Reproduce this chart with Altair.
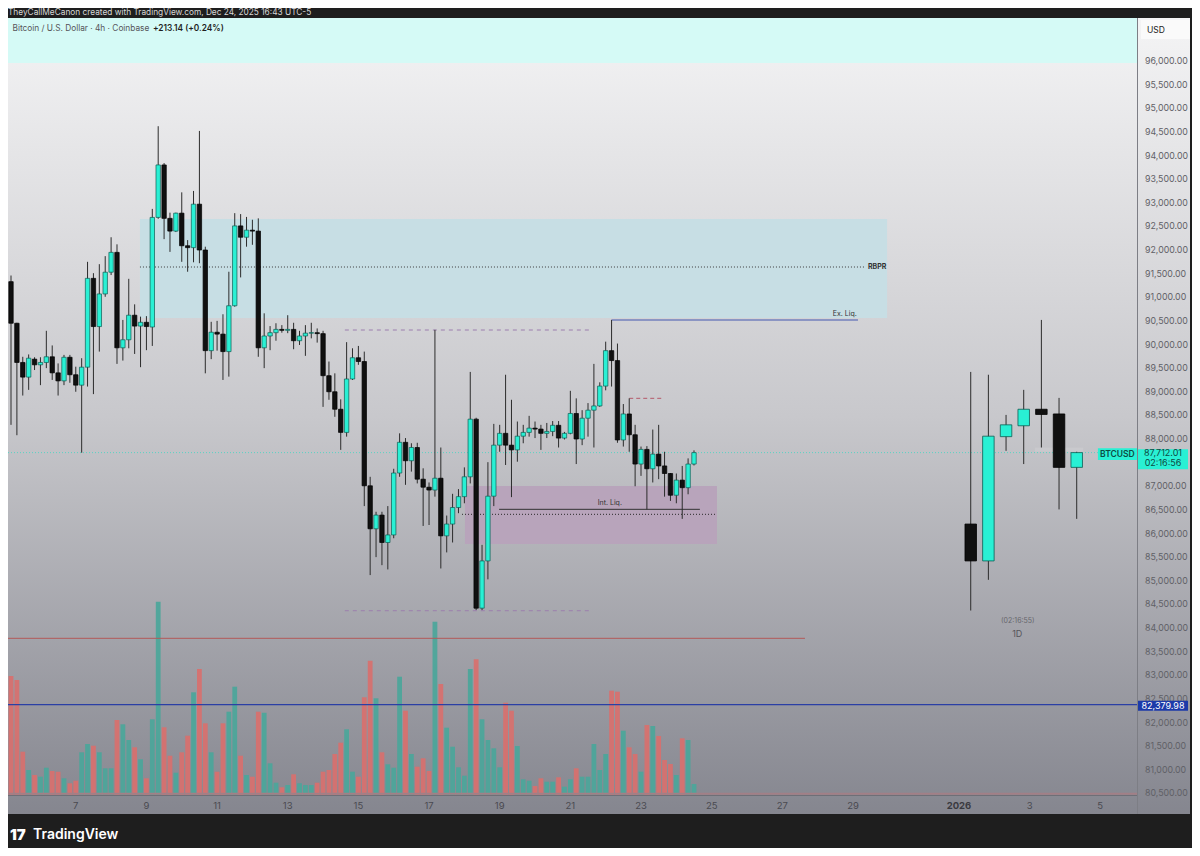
import altair as alt
import pandas as pd

# ---------------- 4h candles (Dec 5 04:00 -> Dec 24 12:00), BTC/USD Coinbase ----------------
opens = [91330, 90450, 89620, 89310, 89690, 89570, 89620, 89740, 89400, 89230,
         89730, 89360, 89140, 89520, 91400, 90380, 91070, 91530, 91950, 89930,
         90100, 90620, 90390, 90470, 90370, 92690, 93800, 92670, 92400, 92780,
         92090, 92050, 92970, 92000, 89870, 90260, 90220, 89850, 90820, 92510,
         92270, 92420, 92400, 89930, 90180, 90250, 90320, 90300, 90320, 90080,
         90180, 90240, 90250, 90230, 89340, 89000, 88630, 88140, 89270, 89720,
         89640, 87010, 86100, 86390, 85810, 85970, 87280, 87930, 87540, 87820,
         87150, 86980, 86920, 87170, 85950, 86200, 86550, 86780, 87200, 88420,
         84420, 85420, 86790, 87870, 88120, 87870, 87770, 88060, 88140, 88230,
         88210, 88120, 88160, 88290, 88020, 88120, 88540, 88000, 88440, 88610,
         88700, 89120, 89870, 89660, 87980, 88530, 88090, 87470, 87780, 87370,
         87680, 87430, 87270, 86810, 87130, 86970, 87470]
highs = [91460, 90460, 89740, 89790, 89730, 89730, 90290, 89980, 89600, 89780,
         89780, 89530, 89710, 91750, 91510, 91700, 91870, 92270, 92120, 90520,
         91390, 90850, 90590, 90600, 92870, 94620, 93840, 92790, 92790, 93220,
         92210, 93250, 94520, 92070, 90480, 90500, 90640, 91540, 92780, 92760,
         92700, 92640, 92670, 90660, 90390, 90450, 90410, 90620, 90460, 90290,
         90410, 90460, 90340, 90290, 89640, 89390, 88840, 90050, 89920, 89970,
         89850, 87200, 86460, 86460, 86580, 87370, 88120, 88020, 87910, 87920,
         87380, 87080, 90310, 87820, 86380, 86840, 86940, 87400, 89420, 88450,
         85760, 87510, 88320, 88300, 89360, 88830, 88370, 88300, 88490, 88370,
         88300, 88340, 88380, 88380, 88150, 89020, 88860, 88610, 88760, 89590,
         89200, 90060, 90520, 90020, 88740, 88860, 88300, 87840, 87850, 88200,
         88300, 87730, 87280, 87270, 87430, 87590, 87760]
lows = [88300, 88080, 88920, 89040, 89460, 89140, 89500, 89250, 88920, 89140,
        89190, 89000, 87710, 89110, 88950, 89850, 91010, 91470, 89590, 89660,
        89920, 89800, 89520, 89880, 89970, 92660, 92230, 91960, 92380, 91750,
        91540, 91740, 91720, 89390, 89690, 89870, 89250, 89320, 90800, 91420,
        92070, 92110, 89740, 89500, 89880, 90080, 90250, 90240, 89900, 89990,
        89760, 90130, 90040, 88680, 88830, 88470, 87770, 88050, 89250, 89570,
        86580, 85120, 85500, 85330, 85240, 85900, 87200, 87030, 87310, 87060,
        86160, 86180, 86780, 85260, 85600, 85810, 86430, 86640, 87060, 84380,
        84380, 85030, 86580, 87730, 87450, 86770, 87520, 87910, 88050, 88020,
        87770, 88020, 88060, 87820, 87990, 88100, 87470, 87870, 88050, 87820,
        88680, 89030, 89110, 87920, 87840, 87730, 87000, 87220, 86510, 87080,
        87150, 86780, 86690, 86640, 86310, 86830, 87440]
closes = [90450, 89620, 89310, 89710, 89570, 89620, 89740, 89400, 89230, 89730,
          89360, 89140, 89520, 91400, 90380, 91070, 91530, 91950, 89930, 90100,
          90620, 90390, 90470, 90380, 92690, 93800, 92670, 92400, 92780, 92090,
          92050, 92970, 92000, 89870, 90260, 90220, 89850, 90820, 92510, 92270,
          92420, 92400, 89930, 90180, 90250, 90320, 90300, 90320, 90080, 90180,
          90240, 90250, 90230, 89340, 89000, 88630, 88140, 89270, 89720, 89640,
          87010, 86100, 86390, 85810, 85970, 87280, 87930, 87540, 87820, 87150,
          86980, 86920, 87170, 85950, 86200, 86550, 86780, 87200, 88420, 84420,
          85420, 86790, 87870, 88120, 87870, 87770, 88060, 88140, 88230, 88210,
          88120, 88160, 88290, 88020, 88120, 88540, 88000, 88440, 88610, 88700,
          89120, 89870, 89660, 87980, 88530, 88090, 87470, 87780, 87370, 87680,
          87430, 87270, 86810, 87130, 86970, 87470, 87712.01]
volumes = [1190, 1150, 433, 250, 200, 183, 273, 240, 233, 167,
           117, 143, 427, 510, 493, 427, 267, 267, 750, 707,
           550, 477, 357, 167, 757, 1933, 677, 393, 223, 427,
           593, 1027, 1260, 717, 427, 233, 717, 833, 1083, 393,
           200, 183, 833, 823, 317, 123, 77, 100, 207, 117,
           100, 100, 123, 233, 250, 410, 523, 657, 233, 183,
           977, 1343, 967, 427, 307, 273, 1183, 843, 410, 283,
           367, 240, 1733, 1110, 673, 483, 277, 193, 1260, 1357,
           757, 550, 467, 277, 923, 843, 490, 157, 143, 90,
           167, 133, 133, 177, 83, 157, 267, 183, 183, 510,
           250, 410, 1043, 1033, 643, 477, 410, 233, 700, 690,
           590, 350, 310, 200, 567, 550, 110]

# ---------------- projected daily (1D) candles on the right ----------------
day_slots = [163, 166, 169, 172, 175, 178, 181]
day_open = [86200, 85420, 88050, 88280, 88630, 88530, 87400]
day_high = [89420, 89360, 88510, 89040, 90520, 88870, 87730]
day_low = [84370, 85020, 87750, 87470, 87820, 86510, 86310]
day_close = [85420, 88060, 88300, 88630, 88520, 87400, 87712.01]

# ---------------- axis labels ----------------
date_ticks = [11, 23, 35, 47, 59, 71, 83, 95, 107, 119, 131, 143, 161, 173, 185]
date_labels = ["7", "9", "11", "13", "15", "17", "19", "21", "23", "25", "27", "29", "2026", "3", "5"]
# 87,500 is hidden under the last-price tag in the reference
price_ticks = [80500, 81000, 81500, 82000, 82500, 83000, 83500, 84000, 84500, 85000,
               85500, 86000, 86500, 87000, 88000, 88500, 89000, 89500, 90000,
               90500, 91000, 91500, 92000, 92500, 93000, 93500, 94000, 94500, 95000,
               95500, 96000]

FONT = "Inter"
CYAN = "#29f0d4"
W, H = 1129, 777
XS = alt.Scale(domain=[-0.51, 191.24], nice=False, zero=False, padding=0)
YS = alt.Scale(domain=[80466, 96910], nice=False, zero=False, padding=0)
one = pd.DataFrame({"k": [0]})

cdf = pd.DataFrame({"slot": list(range(len(opens))), "open": opens, "high": highs,
                    "low": lows, "close": closes, "volume": volumes})
cdf["dir"] = ["up" if c >= o else "down" for o, c in zip(opens, closes)]
ddf = pd.DataFrame({"slot": day_slots, "open": day_open, "high": day_high,
                    "low": day_low, "close": day_close})
ddf["dir"] = ["up" if c >= o else "down" for o, c in zip(day_open, day_close)]


def X(f):
    return alt.X(f, type="quantitative", scale=XS, axis=None)


def Y(f):
    return alt.Y(f, type="quantitative", scale=YS, axis=None)


def hline(x1, x2, y, color, width=1.0, dash=None, opacity=1.0):
    kw = dict(color=color, strokeWidth=width, opacity=opacity)
    if dash:
        kw["strokeDash"] = dash
    df = pd.DataFrame({"x1": [x1], "x2": [x2], "y": [y]})
    return alt.Chart(df).mark_rule(**kw).encode(x=X("x1"), x2="x2", y=Y("y"))


def zone(x1, x2, y1, y2, color, opacity=1.0):
    df = pd.DataFrame({"x1": [x1], "x2": [x2], "y1": [y1], "y2": [y2]})
    return alt.Chart(df).mark_rect(color=color, opacity=opacity).encode(
        x=X("x1"), x2="x2", y=Y("y1"), y2="y2")


def label(t, x, y, size, color, weight="normal", align="center", baseline="middle",
          px_x=False, px_y=False):
    df = pd.DataFrame({"x": [x], "y": [y], "t": [t]})
    enc = dict(text="t:N")
    enc["x"] = alt.value(x) if px_x else X("x")
    enc["y"] = alt.value(y) if px_y else Y("y")
    return alt.Chart(df).mark_text(font=FONT, fontSize=size, color=color, fontWeight=weight,
                                   align=align, baseline=baseline).encode(**enc)


def axis_box(y1, y2, color):
    df = pd.DataFrame({"y1": [y1], "y2": [y2]})
    return alt.Chart(df).mark_rect(color=color).encode(
        x=alt.value(1130), x2=alt.value(1180), y=Y("y1"), y2="y2")


# ---------------- background group ----------------
grad = alt.Gradient(gradient="linear",
                    stops=[alt.GradientStop(color="#f4f4f5", offset=0),
                           alt.GradientStop(color="#c8c8cc", offset=0.5),
                           alt.GradientStop(color="#85868f", offset=1)],
                    x1=0, x2=0, y1=0, y2=1)
bg = alt.Chart(one).mark_rect(fill=grad).encode(
    x=alt.value(0), x2=alt.value(1182), y=alt.value(0), y2=alt.value(796))

group_bg = alt.layer(
    bg,
    zone(-0.51, 191.24, 95958, 96910, "#d5faf6"),
    zone(21.9, 148.8, 90560, 92656, "#c7dee4"),
    zone(77.1, 119.9, 85778, 87005, "#b8a4bb"),
    zone(173.9, 182.1, 87731, 87816, "#c9c9cd"),
)

# ---------------- volume group ----------------
group_vol = alt.Chart(cdf).mark_bar(size=4.8, opacity=0.92).encode(
    x=X("slot"),
    y=alt.Y("volume:Q", scale=alt.Scale(domain=[0, 7770], nice=False, zero=True, padding=0), axis=None),
    color=alt.Color("dir:N", scale=alt.Scale(domain=["up", "down"], range=["#4ba69a", "#d8706e"]),
                    legend=None),
)

# ---------------- main price group ----------------
lines = [
    hline(21.9, 145.0, 91640, "#3c3c3c", 1, [1, 2]),
    hline(102, 143.85, 90519, "#7380bd", 1.5),
    hline(56.7, 98.6, 90307, "#9c7fae", 1, [4, 4]),
    hline(56.7, 98.6, 84366, "#9c7fae", 1, [4, 4]),
    hline(105.0, 110.8, 88861, "#b55a6a", 1, [4, 3]),
    hline(76.6, 119.9, 86406, "#2a2a2a", 1, [1, 2]),
    hline(82.9, 117.0, 86512, "#333333", 1),
    hline(-0.51, 134.85, 83782, "#b25a5a", 1),
    hline(-0.51, 191.24, 82379.98, "#2b3fa5", 1.2),
    hline(-0.51, 191.24, 80490, "#a27f86", 2),
    hline(-0.51, 191.24, 87712.01, "#4fd3c3", 1, [1, 2], 0.9),
]

wicks = alt.Chart(cdf).mark_rule(color="#2c2c2c", strokeWidth=1).encode(
    x=X("slot"), y=Y("low"), y2="high")
bodies = alt.Chart(cdf).mark_bar(size=4.4, strokeWidth=0.7).encode(
    x=X("slot"), y=Y("open"), y2="close",
    fill=alt.Fill("dir:N", scale=alt.Scale(domain=["up", "down"], range=[CYAN, "#101010"]), legend=None),
    stroke=alt.Stroke("dir:N", scale=alt.Scale(domain=["up", "down"], range=["#0e5d53", "#000000"]),
                      legend=None),
)
dwicks = alt.Chart(ddf).mark_rule(color="#2c2c2c", strokeWidth=1).encode(
    x=X("slot"), y=Y("low"), y2="high")
dbodies = alt.Chart(ddf).mark_bar(size=11.5, strokeWidth=0.8).encode(
    x=X("slot"), y=Y("open"), y2="close",
    fill=alt.Fill("dir:N", scale=alt.Scale(domain=["up", "down"], range=[CYAN, "#121212"]), legend=None),
    stroke=alt.Stroke("dir:N", scale=alt.Scale(domain=["up", "down"], range=["#0e5d53", "#000000"]),
                      legend=None),
)

xlab = pd.DataFrame({"slot": date_ticks, "lab": date_labels})
xlab["w"] = ["bold" if l == "2026" else "normal" for l in date_labels]
xlabels_n = alt.Chart(xlab[xlab["w"] == "normal"]).mark_text(
    font=FONT, fontSize=9.5, color="#4a4a50", baseline="middle").encode(
    x=X("slot"), y=alt.value(788), text="lab:N")
xlabels_b = alt.Chart(xlab[xlab["w"] == "bold"]).mark_text(
    font=FONT, fontSize=9.5, color="#3a3a40", fontWeight="bold", baseline="middle").encode(
    x=X("slot"), y=alt.value(788), text="lab:N")

# price scale labels on the right, positioned through the y scale
plab = pd.DataFrame({"p": price_ticks, "lab": [f"{v:,.2f}" for v in price_ticks]})
ylabels = alt.Chart(plab).mark_text(
    font=FONT, fontSize=8.8, color="#5f6066", align="left", baseline="middle").encode(
    x=alt.value(1137), y=Y("p"), text="lab:N")

sep = alt.Chart(one).mark_rule(color="#6e6f77", strokeWidth=1).encode(
    x=alt.value(0), x2=alt.value(1129), y=alt.value(777.5))
vsep = alt.Chart(one).mark_rule(color="#7d7e85", strokeWidth=1).encode(
    x=alt.value(1129.5), y=alt.value(0), y2=alt.value(796))
usd_box = alt.Chart(one).mark_rect(color="#fafafa").encode(
    x=alt.value(1133), x2=alt.value(1182), y=alt.value(2), y2=alt.value(21))

texts = [
    label("RBPR", 147.1, 91640, 7, "#333333", "bold"),
    label("Ex. Liq.", 141.6, 90646, 7, "#333333"),
    label("Int. Liq.", 101.7, 86639, 7, "#333333"),
    label("(02:16:55)", 171.0, 84148, 7, "#66666c"),
    label("1D", 170.9, 83874, 9, "#55555a"),
    zone(184.6, 191.24, 87556, 87803, CYAN),
    label("BTCUSD", 187.9, 87680, 8.5, "#0d4a43", 600),
    axis_box(87359, 87782, CYAN),
    label("87,712.01", 1155, 87698, 9, "#0d4a43", px_x=True),
    label("02:16:56", 1155, 87498, 9, "#0d4a43", px_x=True),
    axis_box(82250, 82461, "#1c3aa9"),
    label("82,379.98", 1155, 82356, 9, "#ffffff", px_x=True),
    label("USD", 1139, 12, 8.5, "#222222", align="left", px_x=True, px_y=True),
    label("TheyCallMeCanon created with TradingView.com, Dec 24, 2025 16:43 UTC-5", 0, -5.5, 8.3,
          "#d8d8d8", align="left", px_x=True, px_y=True),
    label("Bitcoin / U.S. Dollar · 4h · Coinbase", 4.5, 11.3, 8.3, "#55555a", align="left",
          px_x=True, px_y=True),
    label("+213.14 (+0.24%)", 145, 11.3, 8.3, "#1f1f1f", 600, align="left", px_x=True, px_y=True),
    label("17", 2, 817, 15, "#ffffff", 900, align="left", px_x=True, px_y=True),
    label("TradingView", 25, 817, 14, "#ffffff", 600, align="left", px_x=True, px_y=True),
]

group_main = alt.layer(*lines, sep, vsep, usd_box, ylabels, wicks, bodies, dwicks, dbodies,
                       xlabels_n, xlabels_b, *texts)

# total svg: 1184 x 840 so that with the 8px page margin it fits the 1200x856 window
chart = alt.layer(group_bg, group_vol, group_main).resolve_scale(y="independent").properties(
    width=W, height=H,
    padding={"left": 0, "top": 10, "right": 55, "bottom": 53},
    autosize=alt.AutoSizeParams(type="none"),
    background="#1e1e1e",
).configure_view(stroke=None)

chart.save("out.html", embed_options={"renderer": "svg", "actions": False})
